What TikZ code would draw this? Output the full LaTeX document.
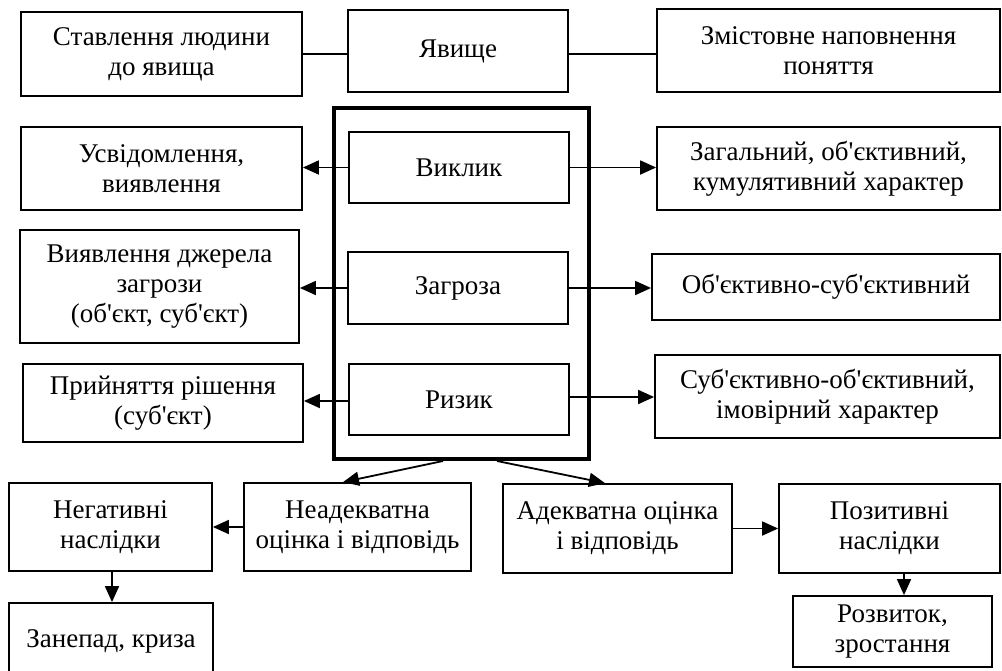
\documentclass[tikz,border=0pt]{standalone}
\usepackage{fontspec}
\setmainfont{Liberation Serif}[Ligatures=TeXOff]
\usetikzlibrary{arrows.meta,calc}

\begin{document}
\begin{tikzpicture}[x=1pt,y=-1pt,
  box/.style={draw, line width=1.8pt, align=center, inner sep=0pt,
              font=\fontsize{27}{30}\selectfont},
  link/.style={line width=1.8pt},
  arr/.style={line width=1.8pt, -{Triangle[length=16pt,width=14pt]}},
  frame/.style={draw, line width=4pt}]

\clip (0,0) rectangle (1002,670);

% central frame holding the three levels
\node[frame, minimum width=255pt, minimum height=351pt] (frame) at (461.5,283.5) {};

% top row
\node[box, minimum width=281pt, minimum height=84pt] (stav) at (161.5,54) {Ставлення людини\\до явища};
\node[box, minimum width=220pt, minimum height=82pt] (yav) at (458,51) {Явище};
\node[box, minimum width=343pt, minimum height=83pt] (zmist) at (828.5,50.5) {Змістовне наповнення\\поняття};

% challenge
\node[box, minimum width=281pt, minimum height=83pt] (usvid) at (161.5,168.5) {Усвідомлення,\\виявлення};
\node[box, minimum width=220pt, minimum height=71pt] (vyklyk) at (459,167.5) {Виклик};
\node[box, minimum width=343pt, minimum height=83pt] (zahal) at (828.5,168.5) {Загальний, об'єктивний,\\кумулятивний характер};

% threat
\node[box, minimum width=279pt, minimum height=113pt] (vyyav) at (159.5,286.5) {Виявлення джерела\\загрози\\(об'єкт, суб'єкт)};
\node[box, minimum width=220pt, minimum height=72pt] (zahroza) at (458,288) {Загроза};
\node[box, minimum width=348pt, minimum height=66pt] (obsub) at (826,287) {Об'єктивно-суб'єктивний};

% risk
\node[box, minimum width=280pt, minimum height=78pt] (pryin) at (163,403) {Прийняття рішення\\(суб'єкт)};
\node[box, minimum width=220pt, minimum height=71pt] (ryzyk) at (459,399.5) {Ризик};
\node[box, minimum width=345pt, minimum height=83pt] (subob) at (827.5,396.5) {Суб'єктивно-об'єктивний,\\імовірний характер};

% responses and consequences
\node[box, minimum width=203pt, minimum height=88pt] (neh) at (110.5,527) {Негативні\\наслідки};
\node[box, minimum width=227pt, minimum height=88pt] (neadek) at (357.5,527) {Неадекватна\\оцінка і відповідь};
\node[box, minimum width=229pt, minimum height=89pt] (adek) at (617.5,528.5) {Адекватна оцінка\\і відповідь};
\node[box, minimum width=221pt, minimum height=89pt] (pozyt) at (889.5,528.5) {Позитивні\\наслідки};
\node[box, minimum width=204pt, minimum height=77pt] (zanepad) at (111,641.5) {\raisebox{6pt}{Занепад, криза}};
\node[box, minimum width=199pt, minimum height=71pt] (rozvyt) at (892.5,631.5) {Розвиток,\\зростання};

% plain links in the top row
\draw[link] (stav.east) -- (stav.east -| yav.west);
\draw[link] (yav.east |- stav.east) -- (stav.east -| zmist.west);

% side arrows
\draw[arr] (vyklyk.west) -- (vyklyk.west -| usvid.east);
\draw[arr] (vyklyk.east) -- (vyklyk.east -| zahal.west);
\draw[arr] (zahroza.west) -- (zahroza.west -| vyyav.east);
\draw[arr] (zahroza.east) -- (zahroza.east -| obsub.west);
\draw[arr] ($(ryzyk.west)+(0,1.5)$) -- ($(ryzyk.west -| pryin.east)+(0,1.5)$);
\draw[arr] ($(ryzyk.east)+(0,-2.5)$) -- ($(ryzyk.east -| subob.west)+(0,-2.5)$);

% from the frame to the two responses
\coordinate (fl) at ($(frame.south)+(-18.5,0)$);
\coordinate (fr) at ($(frame.south)+(35.5,0)$);
\draw[arr] (fl) -- ($(neadek.north)+(-14.5,0)$);
\draw[arr] (fr) -- ($(adek.north)+(-12.5,0)$);

% consequences
\draw[arr] (neadek.west) -- (neadek.west -| neh.east);
\draw[arr] (adek.east) -- (adek.east -| pozyt.west);
\coordinate (nx) at (112,0);
\coordinate (px) at (904,0);
\draw[arr] (neh.south -| nx) -- (zanepad.north -| nx);
\draw[arr] (pozyt.south -| px) -- (rozvyt.north -| px);

\end{tikzpicture}
\end{document}
